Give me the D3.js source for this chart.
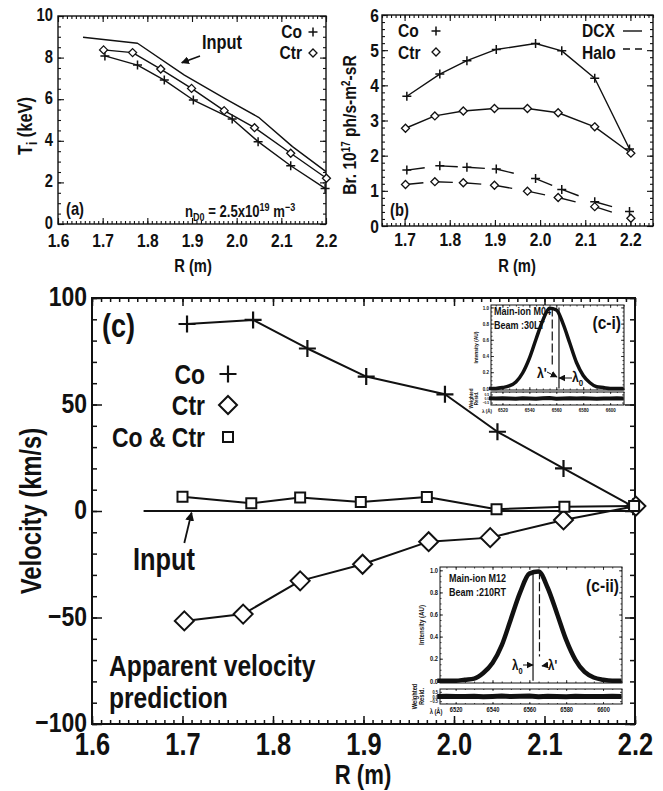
<!DOCTYPE html>
<html>
<head>
<meta charset="utf-8">
<script src="https://cdn.jsdelivr.net/npm/d3@7"></script>
<style>
body { margin: 0; background: #fff; }
text { font-family: "Liberation Sans", Arial, Helvetica, sans-serif; font-weight: bold; fill: #111; }
</style>
</head>
<body>
<svg id="fig" width="663" height="791"></svg>
<script>
// major radius of the chords (m)
var rCo  = [1.705, 1.778, 1.838, 1.903, 1.990, 2.048, 2.121, 2.198];
var rCtr = [1.702, 1.767, 1.830, 1.899, 1.972, 2.040, 2.121, 2.201];
var rAvg = [1.700, 1.776, 1.830, 1.897, 1.970, 2.047, 2.122, 2.199];

// (a) ion temperature, keV
var tiInputR = [1.656, 1.778, 1.883, 1.976, 2.049, 2.125, 2.200];
var tiInput  = [8.98, 8.69, 7.16, 6.00, 5.13, 3.72, 2.52];
var tiCo  = [8.08, 7.64, 6.92, 5.96, 5.05, 3.96, 2.80, 1.71];
var tiCtr = [8.37, 8.24, 7.45, 6.52, 5.45, 4.63, 3.40, 2.20];

// (b) brightness, 1e17 ph/s-m2-sR
var dcxCo   = [3.69, 4.32, 4.70, 5.02, 5.19, 4.98, 4.20, 2.19];
var dcxCtr  = [2.78, 3.13, 3.27, 3.34, 3.34, 3.22, 2.82, 2.07];
var haloCo  = [1.59, 1.71, 1.67, 1.62, 1.35, 1.04, 0.69, 0.41];
var haloCtr = [1.18, 1.26, 1.23, 1.16, 0.99, 0.81, 0.55, 0.22];

// (c) apparent velocity, km/s
var vCo  = [87.8, 89.7, 76.3, 63.1, 54.8, 37.2, 20.0, 2.0];
var vCtr = [-51.6, -48.4, -32.8, -25.0, -14.4, -12.5, -4.2, 2.3];
var vAvg = [6.7, 3.6, 6.3, 4.2, 6.6, 0.8, 2.0, 2.3];
var vInputR = [1.657, 2.2];
var vInput  = [0, 0];

// insets: spectra (intensity AU vs wavelength A)
var lamGrid = [6510, 6515, 6520, 6525, 6530, 6535, 6540, 6545, 6550, 6555, 6560,
               6565, 6570, 6575, 6580, 6585, 6590, 6595, 6600, 6605, 6610];
var specM04 = [0.00, 0.00, 0.01, 0.03, 0.08, 0.19, 0.37, 0.61, 0.84, 0.99, 0.97,
               0.80, 0.56, 0.32, 0.16, 0.07, 0.02, 0.01, 0.00, 0.00, 0.00];
var specM12 = [0.00, 0.00, 0.00, 0.01, 0.02, 0.07, 0.16, 0.32, 0.56, 0.80, 0.97,
               0.99, 0.84, 0.61, 0.37, 0.19, 0.08, 0.03, 0.01, 0.00, 0.00];
var residM04 = [0.02, -0.01, 0.03, 0.00, -0.02, 0.04, 0.01, -0.03, 0.02, 0.05, -0.02,
                0.01, 0.03, -0.01, 0.02, 0.00, -0.02, 0.01, 0.00, 0.02, 0.00];
var residM12 = [0.01, 0.02, -0.01, 0.00, 0.03, -0.02, 0.01, 0.04, -0.01, 0.03, 0.05,
                -0.02, 0.02, 0.01, -0.03, 0.02, 0.00, 0.01, -0.01, 0.02, 0.00];
var lam0 = 6562.0, lamM04 = 6557.0, lamM12 = 6565.5;

// tick labels
var rTicks    = [1.6, 1.7, 1.8, 1.9, 2.0, 2.1, 2.2];
var rTicksB   = [1.7, 1.8, 1.9, 2.0, 2.1, 2.2];
var tiTicks   = [0, 2, 4, 6, 8, 10];
var brTicks   = [0, 1, 2, 3, 4, 5, 6];
var velTicks  = [-100, -50, 0, 50, 100];
var intTicks  = [0, 0.2, 0.4, 0.6, 0.8, 1.0];
var resTicks  = [-0.5, 0, 0.5];
var lamTicks  = [6520, 6540, 6560, 6580, 6600];

var ink = "#111";
var narrow = 0.82;   // squeeze text horizontally, like a condensed face
var svg = d3.select("#fig");
svg.append("rect").attr("width", 663).attr("height", 791).attr("fill", "#fff");

var defs = svg.append("defs");
defs.append("marker").attr("id", "arr").attr("viewBox", "0 0 10 10")
    .attr("refX", 9).attr("refY", 5).attr("markerWidth", 5).attr("markerHeight", 5)
    .attr("orient", "auto").attr("markerUnits", "strokeWidth")
  .append("path").attr("d", "M0,0L10,5L0,10Z").attr("fill", ink);
defs.append("marker").attr("id", "arrS").attr("viewBox", "0 0 10 10")
    .attr("refX", 9).attr("refY", 5).attr("markerWidth", 7).attr("markerHeight", 7)
    .attr("orient", "auto").attr("markerUnits", "strokeWidth")
  .append("path").attr("d", "M0,0L10,5L0,10Z").attr("fill", ink);

function steps(a, b, s) {
  var n = Math.round((b - a) / s), out = [];
  for (var i = 0; i <= n; i++) out.push(+(a + i * s).toFixed(4));
  return out;
}

// framed box with inward ticks on all four sides
function axes(g, x, y, o) {
  var X0 = x.range()[0], X1 = x.range()[1], Yb = y.range()[0], Yt = y.range()[1];
  g.append("rect").attr("x", X0).attr("y", Yt).attr("width", X1 - X0).attr("height", Yb - Yt)
    .attr("fill", o.fill || "none").attr("stroke", ink).attr("stroke-width", o.sw);
  var sides = [
    [d3.axisBottom, x, "translate(0," + Yb + ")", true, true],
    [d3.axisTop, x, "translate(0," + Yt + ")", true, false],
    [d3.axisLeft, y, "translate(" + X0 + ",0)", false, true],
    [d3.axisRight, y, "translate(" + X1 + ",0)", false, false]
  ];
  sides.forEach(function (d) {
    var isX = d[3];
    var mi = g.append("g").attr("transform", d[2])
      .call(d[0](d[1]).tickValues(isX ? o.xMinor : o.yMinor).tickSize(-(isX ? o.xSmall : o.ySmall)).tickFormat(""));
    var lab = d[4] && (isX ? o.xFmt : o.yFmt);
    var ma = g.append("g").attr("transform", d[2])
      .call(d[0](d[1]).tickValues(isX ? o.xMajor : o.yMajor).tickSize(-(isX ? o.xBig : o.yBig))
        .tickPadding(isX ? o.xPad : o.yPad).tickFormat(lab ? (isX ? o.xFmt : o.yFmt) : ""));
    [mi, ma].forEach(function (s) {
      s.select(".domain").remove();
      s.attr("font-family", null).attr("font-size", null);
      s.selectAll("line").attr("stroke", ink).attr("stroke-width", o.tw);
    });
    ma.selectAll("text").attr("fill", ink).style("font-size", (isX ? o.fs : (o.fsY || o.fs)) + "px");
    if (!isX && o.yDy) ma.selectAll("text").attr("dy", o.yDy);
  });
}

var shapes = {
  plus: function (s) { return "M" + (-s) + ",0H" + s + "M0," + (-s) + "V" + s; },
  diamond: function (s) { return "M0," + (-s) + "L" + s + ",0L0," + s + "L" + (-s) + ",0Z"; },
  square: function (s) { return "M" + (-s) + "," + (-s) + "H" + s + "V" + s + "H" + (-s) + "Z"; }
};

function series(g, x, y, xs, ys, o) {
  var pts = xs.map(function (d, i) { return [d, ys[i]]; });
  var line = d3.line().x(function (d) { return x(d[0]); }).y(function (d) { return y(d[1]); });
  if (o.dash) {
    // dash restarts at each point, like the original plot
    for (var i = 0; i < pts.length - 1; i++) {
      g.append("path").attr("d", line([pts[i], pts[i + 1]])).attr("fill", "none")
        .attr("stroke", ink).attr("stroke-width", o.lw).attr("stroke-dasharray", o.dash);
    }
  } else {
    g.append("path").attr("d", line(pts)).attr("fill", "none")
      .attr("stroke", ink).attr("stroke-width", o.lw).attr("stroke-linejoin", "round");
  }
  if (o.shape) {
    g.selectAll(null).data(pts).enter().append("path")
      .attr("transform", function (d) { return "translate(" + x(d[0]) + "," + y(d[1]) + ")"; })
      .attr("d", shapes[o.shape](o.size))
      .attr("fill", o.shape === "plus" ? "none" : "#fff")
      .attr("stroke", ink).attr("stroke-width", o.mw || o.lw);
  }
}

function label(g, x, y, str, size, anchor) {
  return g.append("text").attr("x", x).attr("y", y).attr("text-anchor", anchor || "start")
    .style("font-size", size + "px").text(str);
}

function symbol(g, x, y, shape, s, w) {
  g.append("path").attr("transform", "translate(" + x + "," + y + ")")
    .attr("d", shapes[shape](s)).attr("fill", shape === "plus" ? "none" : "#fff")
    .attr("stroke", ink).attr("stroke-width", w);
}

var fmt1 = d3.format(".1f");

// ---------------- (a) ----------------
var ga = svg.append("g");
var xa = d3.scaleLinear().domain([1.6, 2.2]).range([58, 326]);
var ya = d3.scaleLinear().domain([0, 10]).range([224, 16]);
axes(ga, xa, ya, {
  xMajor: rTicks, xMinor: steps(1.6, 2.2, 0.01), yMajor: tiTicks, yMinor: steps(0, 10, 0.5),
  xBig: 6, xSmall: 3, yBig: 6, ySmall: 3, sw: 1.4, tw: 1.1, fs: 19, fsY: 18, xPad: 10, yPad: 5,
  yDy: "0.25em", xFmt: fmt1, yFmt: d3.format("d")
});
series(ga, xa, ya, tiInputR, tiInput, { lw: 1.4 });
series(ga, xa, ya, rCo, tiCo, { lw: 1.4, shape: "plus", size: 4.5, mw: 1.5 });
series(ga, xa, ya, rCtr, tiCtr, { lw: 1.4, shape: "diamond", size: 4, mw: 1.3 });

var tyl = ga.append("text").attr("transform", "translate(32,126) rotate(-90)")
  .attr("text-anchor", "middle").style("font-size", "20px");
tyl.append("tspan").text("T");
tyl.append("tspan").attr("dy", 5).style("font-size", "14px").text("i");
tyl.append("tspan").attr("dy", -5).text(" (keV)");
label(ga, 193, 272, "R (m)", 18, "middle");
label(ga, 302, 38, "Co", 19, "end");
label(ga, 302, 59, "Ctr", 19, "end");
symbol(ga, 313, 32, "plus", 4.5, 1.5);
symbol(ga, 313, 53, "diamond", 4, 1.3);
label(ga, 202, 49, "Input", 20);
ga.append("line").attr("x1", 200).attr("y1", 56).attr("x2", xa(1.877)).attr("y2", ya(7.75))
  .attr("stroke", ink).attr("stroke-width", 1.6).attr("marker-end", "url(#arr)");
label(ga, 66, 215, "(a)", 18);
var nd = ga.append("text").attr("x", 185).attr("y", 217).style("font-size", "16px");
nd.append("tspan").text("n");
nd.append("tspan").attr("dy", 4).style("font-size", "11px").text("D0");
nd.append("tspan").attr("dy", -4).text(" = 2.5x10");
nd.append("tspan").attr("dy", -6).style("font-size", "11px").text("19");
nd.append("tspan").attr("dy", 6).text(" m");
nd.append("tspan").attr("dy", -6).style("font-size", "11px").text("\u22123");

// ---------------- (b) ----------------
var gb = svg.append("g");
var xb = d3.scaleLinear().domain([1.65, 2.25]).range([382, 653]);
var yb = d3.scaleLinear().domain([0, 6]).range([226, 15]);
axes(gb, xb, yb, {
  xMajor: rTicksB, xMinor: steps(1.65, 2.25, 0.01), yMajor: brTicks, yMinor: steps(0, 6, 0.2),
  xBig: 6, xSmall: 3, yBig: 6, ySmall: 3, sw: 1.4, tw: 1.1, fs: 19, xPad: 7, yPad: 3,
  xFmt: fmt1, yFmt: d3.format("d")
});
series(gb, xb, yb, rCo, dcxCo, { lw: 1.4, shape: "plus", size: 4.5, mw: 1.5 });
series(gb, xb, yb, rCtr, dcxCtr, { lw: 1.4, shape: "diamond", size: 4, mw: 1.3 });
series(gb, xb, yb, rCo, haloCo, { lw: 1.4, dash: "18,60", shape: "plus", size: 4.5, mw: 1.5 });
series(gb, xb, yb, rCtr, haloCtr, { lw: 1.4, dash: "18,60", shape: "diamond", size: 4, mw: 1.3 });

var byl = gb.append("text").attr("transform", "translate(356,125) rotate(-90)")
  .attr("text-anchor", "middle").style("font-size", "19px");
byl.append("tspan").text("Br. 10");
byl.append("tspan").attr("dy", -6).style("font-size", "12px").text("17");
byl.append("tspan").attr("dy", 6).text(" ph/s-m");
byl.append("tspan").attr("dy", -6).style("font-size", "12px").text("2");
byl.append("tspan").attr("dy", 6).text("-sR");
label(gb, 517, 272, "R (m)", 18, "middle");
label(gb, 398, 37, "Co", 19);
label(gb, 398, 59, "Ctr", 19);
symbol(gb, 436, 31, "plus", 4.5, 1.5);
symbol(gb, 436, 52, "diamond", 4, 1.3);
label(gb, 582, 37, "DCX", 19);
label(gb, 582, 59, "Halo", 19);
gb.append("line").attr("x1", 623).attr("x2", 642).attr("y1", 31).attr("y2", 31)
  .attr("stroke", ink).attr("stroke-width", 1.4);
gb.append("line").attr("x1", 623).attr("x2", 642).attr("y1", 49).attr("y2", 49)
  .attr("stroke", ink).attr("stroke-width", 1.4).attr("stroke-dasharray", "7,5");
label(gb, 390, 216, "(b)", 18);

// ---------------- (c) ----------------
var gc = svg.append("g");
var xc = d3.scaleLinear().domain([1.6, 2.2]).range([92, 635]);
var yc = d3.scaleLinear().domain([-100, 100]).range([724, 298]);
axes(gc, xc, yc, {
  xMajor: rTicks, xMinor: steps(1.6, 2.2, 0.01), yMajor: velTicks, yMinor: steps(-100, 100, 10),
  xBig: 8, xSmall: 4, yBig: 10, ySmall: 5, sw: 2, tw: 1.5, fs: 31, fsY: 28, xPad: 9, yPad: 5,
  yDy: "0.28em", xFmt: fmt1, yFmt: d3.format("d")
});
series(gc, xc, yc, vInputR, vInput, { lw: 2 });
series(gc, xc, yc, rCo, vCo, { lw: 2, shape: "plus", size: 8.5, mw: 2.2 });
series(gc, xc, yc, rCtr, vCtr, { lw: 2, shape: "diamond", size: 9.5, mw: 2 });
series(gc, xc, yc, rAvg, vAvg, { lw: 2, shape: "square", size: 5, mw: 2 });

gc.append("text").attr("transform", "translate(41,511) rotate(-90)")
  .attr("text-anchor", "middle").style("font-size", "29px").text("Velocity (km/s)");
label(gc, 363, 784, "R (m)", 27, "middle");
label(gc, 102, 337, "(c)", 33);
label(gc, 205, 384, "Co", 28, "end");
label(gc, 205, 415, "Ctr", 28, "end");
label(gc, 205, 447, "Co & Ctr", 28, "end");
symbol(gc, 228, 374, "plus", 8.5, 2.2);
symbol(gc, 228, 405, "diamond", 9, 2);
symbol(gc, 228, 437, "square", 5, 2);
label(gc, 133, 570, "Input", 31);
gc.append("line").attr("x1", xc(1.702)).attr("y1", yc(-15)).attr("x2", xc(1.710)).attr("y2", yc(-0.8))
  .attr("stroke", ink).attr("stroke-width", 1.8).attr("marker-end", "url(#arr)");
label(gc, 109, 676, "Apparent velocity", 30);
label(gc, 109, 708, "prediction", 30);

// ---------------- spectra insets ----------------
function inset(c) {
  var g = svg.append("g");
  var x = d3.scaleLinear().domain([6511.5, 6610.3]).range([c.x0, c.x1]);
  var y = d3.scaleLinear().domain([-0.02, 1.03]).range([c.yb, c.yt]);
  var yr = d3.scaleLinear().domain([-0.8, 0.8]).range([c.rb, c.rt]);
  axes(g, x, y, {
    fill: "#fff", xMajor: lamTicks, xMinor: steps(6515, 6610, 5), yMajor: intTicks, yMinor: steps(0, 1, 0.05),
    xBig: 3, xSmall: 1.5, yBig: 3, ySmall: 1.5, sw: 1, tw: 0.8, fs: c.fs, xPad: 2, yPad: 2,
    xFmt: null, yFmt: fmt1
  });
  axes(g, x, yr, {
    fill: "#fff", xMajor: lamTicks, xMinor: steps(6515, 6610, 5), yMajor: resTicks, yMinor: [],
    xBig: 2, xSmall: 1, yBig: 2, ySmall: 1, sw: 1, tw: 0.8, fs: c.fs, fsY: c.fs * 0.7, xPad: 3, yPad: 2,
    xFmt: d3.format("d"), yFmt: fmt1
  });
  var line = d3.line().x(function (d, i) { return x(lamGrid[i]); }).y(function (d) { return y(d); })
    .curve(d3.curveMonotoneX);
  g.append("path").attr("d", line(c.spec)).attr("fill", "none").attr("stroke", ink)
    .attr("stroke-width", c.cw).attr("stroke-linejoin", "round");
  var rl = d3.line().x(function (d, i) { return x(lamGrid[i]); }).y(function (d) { return yr(d); });
  g.append("path").attr("d", rl(c.resid)).attr("fill", "none").attr("stroke", ink).attr("stroke-width", c.rw);
  // rest (solid) and shifted (dashed) wavelengths
  g.append("line").attr("x1", x(lam0)).attr("x2", x(lam0)).attr("y1", y(0)).attr("y2", y(1))
    .attr("stroke", ink).attr("stroke-width", 1.2);
  g.append("line").attr("x1", x(c.shift)).attr("x2", x(c.shift)).attr("y1", y(1)).attr("y2", y(c.dashTo))
    .attr("stroke", ink).attr("stroke-width", 1.2).attr("stroke-dasharray", "9,3");
  label(g, c.x0 + c.tx, c.yt + c.ty1, c.name, c.fsT);
  label(g, c.x0 + c.tx, c.yt + c.ty2, c.beam, c.fsT);
  label(g, c.x1 - 3, c.yt + c.tag[1], c.tag[0], c.fsTag, "end");
  g.append("text").attr("transform", "translate(" + (c.x0 - c.fs * 2.3) + "," + ((c.yt + c.yb) / 2) + ") rotate(-90)")
    .attr("text-anchor", "middle").style("font-size", (c.fs + 0.5) + "px").text("Intensity (AU)");
  g.append("text").attr("transform", "translate(" + (c.x0 - c.fs * 3.3) + "," + ((c.rt + c.rb) / 2) + ") rotate(-90)")
    .attr("text-anchor", "middle").style("font-size", c.fs + "px").text("Weighted");
  g.append("text").attr("transform", "translate(" + (c.x0 - c.fs * 2.3) + "," + ((c.rt + c.rb) / 2) + ") rotate(-90)")
    .attr("text-anchor", "middle").style("font-size", c.fs + "px").text("Resid.");
  label(g, c.x0 - 4, c.rb + c.fs + 3, "\u03bb (\u00c5)", c.fs, "middle");
  // lambda annotations
  c.notes.forEach(function (n) {
    var t = g.append("text").attr("x", n.x).attr("y", n.y).attr("text-anchor", n.anchor)
      .style("font-size", c.fsL + "px");
    t.append("tspan").text("\u03bb");
    if (n.sub) t.append("tspan").attr("dy", 4).style("font-size", (c.fsL * 0.65) + "px").text("0");
    else t.append("tspan").text("'");
    g.append("line").attr("x1", n.ax1).attr("y1", n.ay1).attr("x2", n.ax2).attr("y2", n.ay2)
      .attr("stroke", ink).attr("stroke-width", 1).attr("marker-end", "url(#arrS)");
  });
}

inset({
  x0: 491, x1: 624, yt: 305, yb: 390, rt: 392, rb: 405, fs: 5.5, cw: 3.5, rw: 4,
  spec: specM04, resid: residM04, shift: lamM04, dashTo: 0.28,
  name: "Main-ion M04", beam: "Beam :30LT", tx: 3, ty1: 10, ty2: 24, fsT: 11,
  tag: ["(c-i)", 24], fsTag: 19, fsL: 15,
  notes: [
    { x: 537, y: 378, anchor: "start", sub: false, ax1: 547, ay1: 372, ax2: 557, ay2: 377 },
    { x: 572, y: 382, anchor: "start", sub: true, ax1: 572, ay1: 378, ax2: 559, ay2: 378 }
  ]
});

inset({
  x0: 440, x1: 622, yt: 567, yb: 683, rt: 689, rb: 704, fs: 7, cw: 4.5, rw: 5,
  spec: specM12, resid: residM12, shift: lamM12, dashTo: 0.22,
  name: "Main-ion M12", beam: "Beam :210RT", tx: 9, ty1: 15, ty2: 29, fsT: 11,
  tag: ["(c-ii)", 25], fsTag: 19, fsL: 14,
  notes: [
    { x: 512, y: 670, anchor: "start", sub: true, ax1: 523, ay1: 665, ax2: 533, ay2: 665 },
    { x: 548, y: 670, anchor: "start", sub: false, ax1: 548, ay1: 665, ax2: 542, ay2: 666 }
  ]
});

// condense every label about its own anchor point
svg.selectAll("text").each(function () {
  var t = d3.select(this);
  var ax = +(t.attr("x") || 0);
  var tr = t.attr("transform") || "";
  t.attr("transform", tr + " translate(" + ax + ",0) scale(" + narrow + ",1) translate(" + (-ax) + ",0)");
});
</script>
</body>
</html>
